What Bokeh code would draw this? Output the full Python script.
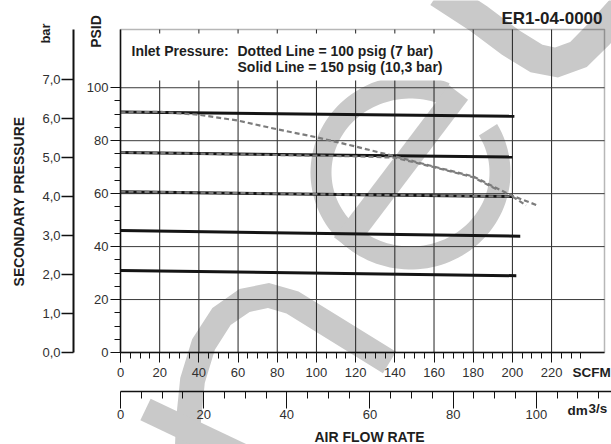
import math

from bokeh.embed import file_html
from bokeh.models import (BoxAnnotation, CustomJSTickFormatter, FixedTicker, Label,
                          LinearAxis, PolyAnnotation, Range1d)
from bokeh.plotting import figure
from bokeh.resources import INLINE

# ---------------------------------------------------------------- data
# air flow (SCFM) axis
flow_ticks = [0, 20, 40, 60, 80, 100, 120, 140, 160, 180, 200, 220]
flow_minor = [v for v in range(5, 240, 5) if v % 20]
# secondary pressure (PSID) axis
psid_ticks = [0, 20, 40, 60, 80, 100]
psid_minor = [v for v in range(5, 100, 5) if v % 20]
# secondary pressure (bar) axis
bar_ticks = [0, 1, 2, 3, 4, 5, 6, 7]
# air flow (dm3/s) axis
dm3_ticks = [0, 20, 40, 60, 80, 100]
dm3_minor = [v for v in range(5, 120, 5) if v % 20]

# solid lines: inlet pressure 150 psig (10,3 bar)
solid_end_flow = [201, 200, 200, 204, 202]
solid_start_psid = [90.8, 75.5, 60.7, 46.1, 31.0]
solid_end_psid = [89.2, 73.8, 58.9, 43.9, 29.0]

# dotted lines: inlet pressure 100 psig (7 bar)
dot_top_flow = [0, 20, 40, 60, 80, 100, 120, 140, 160, 180, 190, 200, 213]
dot_top_psid = [90.7, 90.9, 89.8, 87.6, 84.3, 81.3, 77.8, 74.1, 70.2, 66.5, 62.8, 59.2, 55.5]
dot_mid_flow = [0, 40, 80, 120, 140, 160, 180, 192]
dot_mid_psid = [75.6, 75.1, 74.6, 74.1, 73.6, 70.0, 66.2, 61.6]
dot_low_flow = [0, 40, 80, 120, 160, 200, 207]
dot_low_psid = [60.8, 60.4, 60.0, 59.6, 59.3, 58.9, 55.6]

# ---------------------------------------------------------------- layout
# The whole canvas is the plotting frame; the chart box sits inside it and
# every scale is drawn as a fixed-location axis.
W, H = 611, 444
BOX_L, BOX_R, BOX_T, BOX_B = 120, 604, 29, 352
BOX_W, BOX_H = BOX_R - BOX_L, BOX_B - BOX_T
X_END, Y_END = 247.0, 122.0        # SCFM / PSID at the box's right / top edge
BAR_END, DM3_END = 8.28, 116.4     # bar / dm3/s at the same edges

FONT = "Liberation Sans"
INK = "#1e1e1e"
TICK_INK = "#303030"
MARK_GRAY = "#c9c9c9"


def data_x(px):
    return (px - BOX_L) * X_END / BOX_W


def data_y(py):
    return (BOX_B - py) * Y_END / BOX_H


def bar_y(py):
    return (BOX_B - py) * BAR_END / BOX_H


def dm3_x(px):
    return (px - BOX_L) * DM3_END / BOX_W


p = figure(width=W, height=H,
           x_range=Range1d(data_x(0), data_x(W)), y_range=Range1d(data_y(H), data_y(0)),
           x_axis_location=None, y_axis_location=None, min_border=0,
           output_backend="svg", toolbar_location=None,
           background_fill_color="white", border_fill_color="white",
           outline_line_color=None)
p.title.visible = False
p.xgrid.visible = False
p.ygrid.visible = False
p.extra_y_ranges = {"bar": Range1d(bar_y(H), bar_y(0))}
p.extra_x_ranges = {"dm3": Range1d(dm3_x(0), dm3_x(W))}


def style_axis(ax, size="13px"):
    ax.major_label_text_font = FONT
    ax.major_label_text_font_size = size
    ax.major_label_text_color = TICK_INK
    ax.axis_line_color = "#111111"
    ax.major_tick_line_color = "#111111"
    ax.minor_tick_line_color = "#111111"
    ax.major_tick_in = 0
    ax.minor_tick_in = 0


# SCFM axis along the bottom of the box
flow_axis = LinearAxis(fixed_location=0, bounds=(0, X_END),
                       ticker=FixedTicker(ticks=flow_ticks, minor_ticks=flow_minor))
style_axis(flow_axis)
flow_axis.axis_line_width = 1.5
flow_axis.major_tick_out = 10
flow_axis.minor_tick_out = 6
flow_axis.major_label_standoff = 5
p.add_layout(flow_axis, "below")

# PSID axis along the left of the box
psid_axis = LinearAxis(fixed_location=0, bounds=(0, Y_END),
                       ticker=FixedTicker(ticks=psid_ticks, minor_ticks=psid_minor))
style_axis(psid_axis)
psid_axis.axis_line_width = 1.5
psid_axis.major_tick_out = 10
psid_axis.minor_tick_out = 6
psid_axis.major_label_standoff = 2
p.add_layout(psid_axis, "left")

# bar axis, further left
bar_axis = LinearAxis(y_range_name="bar", fixed_location=data_x(73), bounds=(0, BAR_END),
                      ticker=FixedTicker(ticks=bar_ticks, minor_ticks=[]),
                      formatter=CustomJSTickFormatter(code="return tick.toFixed(1).replace('.', ',')"))
style_axis(bar_axis)
bar_axis.axis_line_width = 2
bar_axis.major_tick_line_width = 1.5
bar_axis.major_tick_out = 12
bar_axis.minor_tick_out = 0
bar_axis.major_label_standoff = 1
p.add_layout(bar_axis, "left")

# dm3/s axis under the SCFM scale
dm3_axis = LinearAxis(x_range_name="dm3", fixed_location=data_y(391), bounds=(0, dm3_x(W)),
                      ticker=FixedTicker(ticks=dm3_ticks, minor_ticks=dm3_minor))
style_axis(dm3_axis)
dm3_axis.axis_line_width = 1.5
dm3_axis.major_tick_out = 17
dm3_axis.minor_tick_out = 7
dm3_axis.major_label_standoff = 1
p.add_layout(dm3_axis, "below")


# ---------------------------------------------------------------- background mark
def stroke_outline(pts, width):
    half = width / 2.0
    left, right = [], []
    n = len(pts)
    for i in range(n):
        x0, y0 = pts[max(i - 1, 0)]
        x1, y1 = pts[min(i + 1, n - 1)]
        dx, dy = x1 - x0, y1 - y0
        d = math.hypot(dx, dy)
        nx, ny = -dy / d, dx / d
        cx, cy = pts[i]
        left.append((cx + nx * half, cy + ny * half))
        right.append((cx - nx * half, cy - ny * half))
    poly = left + right[::-1]
    return [data_x(x) for x, _ in poly], [data_y(y) for _, y in poly]


def ring_outline(cx, cy, outer, inner, a0, a1, steps=120):
    angs = [math.radians(a0 + (a1 - a0) * k / steps) for k in range(steps + 1)]
    pts = [(cx + outer[0] * math.cos(a), cy - outer[1] * math.sin(a)) for a in angs]
    pts += [(cx + inner[0] * math.cos(a), cy - inner[1] * math.sin(a)) for a in reversed(angs)]
    return [data_x(x) for x, _ in pts], [data_y(y) for _, y in pts]


mark_shapes = [
    ring_outline(410, 172, (100, 97), (79, 74), 67, 390),
    stroke_outline([(343, 244), (458, 92)], 24),
    stroke_outline([(438, -8), (478, 18), (510, 42), (536, 58), (556, 62),
                    (578, 54), (598, 34), (625, 4)], 30),
    stroke_outline([(186, 470), (188, 420), (192, 380), (203, 344), (221, 316),
                    (244, 300), (268, 295), (292, 302), (389, 362)], 25),
    stroke_outline([(145, 409), (265, 466)], 24),
]
for sx, sy in mark_shapes:
    p.add_layout(PolyAnnotation(xs=sx, ys=sy, fill_color=MARK_GRAY, fill_alpha=1,
                                line_color=None, level="image"))

# ---------------------------------------------------------------- grid and box
n_v, n_h = len(flow_ticks) - 1, len(psid_ticks) - 1
p.segment(x0=flow_ticks[1:], y0=[0] * n_v, x1=flow_ticks[1:], y1=[Y_END] * n_v,
          line_color="#222222", line_width=1)
p.segment(x0=[0] * n_h, y0=psid_ticks[1:], x1=[X_END] * n_h, y1=psid_ticks[1:],
          line_color="#3a3a3a", line_width=1)

# white panel behind the inlet pressure note
p.quad(left=data_x(121), right=data_x(466), bottom=data_y(80), top=data_y(33),
       fill_color="white", line_color=None)

p.add_layout(BoxAnnotation(left=0, right=X_END, bottom=0, top=Y_END, fill_color=None,
                           line_color="#111111", line_width=1.5))

# ---------------------------------------------------------------- curves
p.multi_line(xs=[[0, e] for e in solid_end_flow],
             ys=[[a, b] for a, b in zip(solid_start_psid, solid_end_psid)],
             line_color="#141414", line_width=3)

for fx, fy in [(dot_low_flow, dot_low_psid), (dot_mid_flow, dot_mid_psid),
               (dot_top_flow, dot_top_psid)]:
    p.line(fx, fy, line_color="#7c7c7c", line_width=2.2, line_dash="5 3")


# ---------------------------------------------------------------- texts
def add_text(text, px, py, size, align="left", angle=0.0, bold=True, color=INK):
    # (px, py) is the vertical middle of the text's capitals
    p.add_layout(Label(x=data_x(px), y=data_y(py), text=text, text_font=FONT,
                       text_font_size=size, text_font_style="bold" if bold else "normal",
                       text_color=color, text_align=align, text_baseline="middle",
                       angle=angle))


add_text("ER1-04-0000", 602, 17.5, "17px", align="right")
add_text("Inlet Pressure:", 131, 50, "14px")
add_text("Dotted Line = 100 psig (7 bar)", 237, 50, "14px")
add_text("Solid Line = 150 psig (10,3 bar)", 237, 66.7, "14px")
add_text("PSID", 95, 31, "14px", align="center", angle=math.pi / 2)
add_text("bar", 45, 33, "13px", align="center", angle=math.pi / 2)
add_text("SECONDARY PRESSURE", 18, 201, "14px", align="center", angle=math.pi / 2)
add_text("SCFM", 572, 372.3, "13.5px")
add_text("dm", 567, 410.3, "13.5px")
add_text("3/s", 588, 407.5, "13.5px")
add_text("AIR FLOW RATE", 369, 436.7, "14px", align="center")

open("out.html", "w").write(file_html(p, INLINE))
